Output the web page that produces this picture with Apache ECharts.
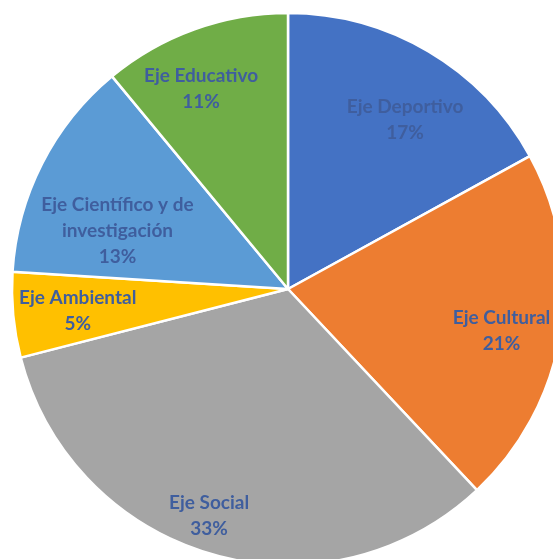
<!DOCTYPE html>
<html><head><meta charset="utf-8">
<script src="https://cdn.jsdelivr.net/npm/echarts@6/dist/echarts.min.js"></script>
<style>html,body{margin:0;padding:0;background:#fff}#c{width:553px;height:559px}</style>
</head><body><div id="c"></div>
<script>
const categories = ['Eje Deportivo', 'Eje Cultural', 'Eje Social', 'Eje Ambiental', 'Eje Científico y de\ninvestigación', 'Eje Educativo'];
const values = [17, 21, 33, 5, 13, 11];
const colors = ['#4472C4', '#ED7D31', '#A5A5A5', '#FFC000', '#5B9BD5', '#70AD47'];
// label nudges (styling only)
const labelShift = [[6, 19], [-2, 8], [-18, 17], [7, 1], [24, 41], [-13, 5]];

const data = categories.map((n, i) => ({ name: n, value: values[i], itemStyle: { color: colors[i] } }));
const center = [288, 289];
const R = 276;
const chart = echarts.init(document.getElementById('c'));
chart.setOption({
  animation: false,
  series: [{
    type: 'pie', center: center, radius: [0, R], startAngle: 90, clockwise: true,
    data: data, silent: true,
    itemStyle: { borderColor: '#fff', borderWidth: 2.5 },
    label: { show: false }, labelLine: { show: false }
  }, {
    type: 'pie', center: center, radius: [R * 0.56, R], startAngle: 90, clockwise: true,
    silent: true,
    data: categories.map((n, i) => ({ name: n, value: values[i] })),
    itemStyle: { color: 'rgba(0,0,0,0)' },
    label: {
      show: true, position: 'inside',
      formatter: p => p.name + '\n' + Math.round(p.percent) + '%',
      color: '#3F5E9E', fontFamily: 'Lato', fontWeight: 'bold', fontSize: 19, lineHeight: 26, align: 'center'
    },
    labelLayout: p => ({ dx: labelShift[p.dataIndex][0], dy: labelShift[p.dataIndex][1] }),
    labelLine: { show: false }
  }]
});
</script></body></html>
